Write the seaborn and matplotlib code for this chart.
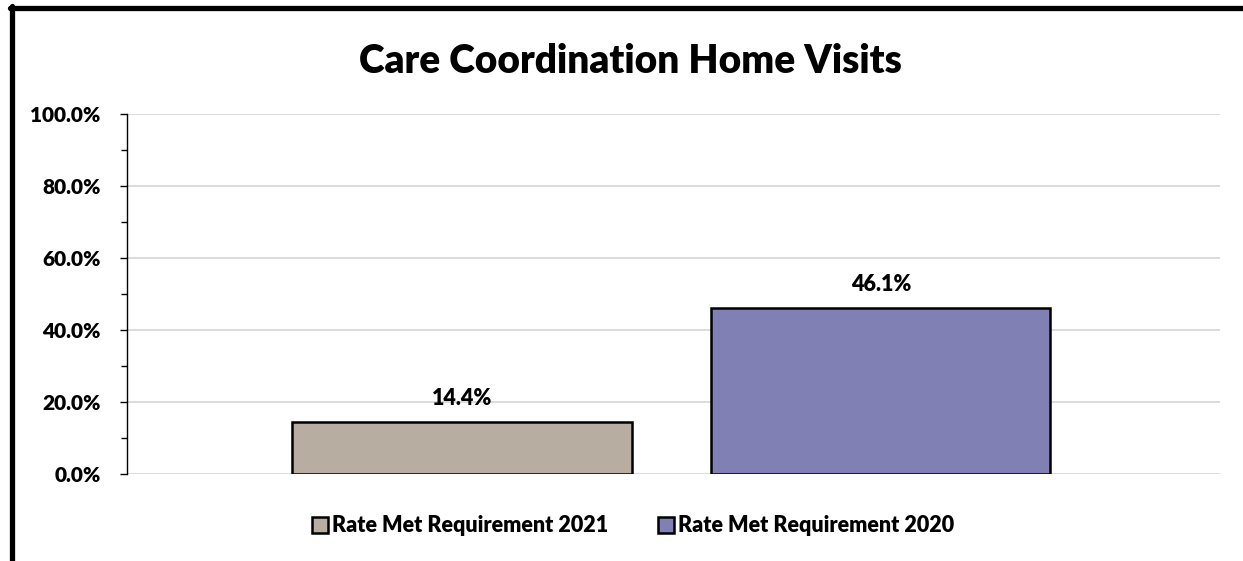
import matplotlib
matplotlib.use("Agg")
import matplotlib.pyplot as plt
from matplotlib.patches import Patch
from matplotlib.lines import Line2D
from matplotlib.ticker import MultipleLocator, PercentFormatter
import pandas as pd
import seaborn as sns

# data
series = ["Rate Met Requirement 2021", "Rate Met Requirement 2020"]
rates = [14.4, 46.1]
bar_colors = ["#B8ADA1", "#8080B4"]

df = pd.DataFrame({"Series": series, "Rate": rates})

sns.set_style("white")
plt.rcParams["font.family"] = ["Lato", "DejaVu Sans"]
plt.rcParams["font.weight"] = "heavy"
plt.rcParams["text.color"] = "black"
plt.rcParams["ytick.color"] = "black"

W, H = 1243, 561
fig = plt.figure(figsize=(W / 100, H / 100), dpi=100)
ax = fig.add_axes([127 / W, 1 - 474 / H, (1220 - 127) / W, (474 - 114) / H])

sns.barplot(data=df, x="Series", y="Rate", hue="Series", palette=bar_colors,
            dodge=False, width=0.81, edgecolor="black", linewidth=1.8,
            saturation=1, legend=False, ax=ax, zorder=3)

# value labels
for p, v in zip(ax.patches, rates):
    ax.annotate(f"{v:.1f}%", (p.get_x() + p.get_width() / 2, v),
                xytext=(0, 12), textcoords="offset points",
                ha="center", va="baseline", fontsize=15.5, fontweight="heavy")

ax.set_ylim(0, 100)
ax.set_xlim(-0.8, 1.81)
ax.yaxis.set_major_locator(MultipleLocator(20))
ax.yaxis.set_minor_locator(MultipleLocator(10))
ax.yaxis.set_major_formatter(PercentFormatter(decimals=1))
ax.grid(axis="y", color="#D9D9D9", linewidth=1.3, zorder=0)
ax.set_axisbelow(True)
ax.set_xticks([])
ax.set_xlabel("")
ax.set_ylabel("")
for s in ["top", "right", "bottom"]:
    ax.spines[s].set_visible(False)
ax.spines["left"].set_color("black")
ax.spines["left"].set_linewidth(1.0)
ax.tick_params(axis="y", which="both", left=True, direction="out", color="black", width=1.0)
ax.tick_params(axis="y", which="major", length=5, labelsize=15, pad=14)
ax.tick_params(axis="y", which="minor", length=4)
for lbl in ax.get_yticklabels():
    lbl.set_fontweight("heavy")

fig.text(630 / W, 1 - 73 / H, "Care Coordination Home Visits", ha="center", va="baseline",
         fontsize=28, fontweight="heavy")

handles = [Patch(facecolor=c, edgecolor="black", linewidth=1.8) for c in bar_colors]
fig.legend(handles, series, loc="center", bbox_to_anchor=(633 / W, 1 - 526 / H),
           ncol=2, frameon=False, handlelength=0.75, handleheight=0.75,
           handletextpad=0.2, columnspacing=2.3,
           prop={"weight": "heavy", "size": 15.5})

# thick frame lines at top and left of the image
fig.add_artist(Line2D([10 / W, 1], [1 - 8 / H, 1 - 8 / H], color="black", linewidth=3.8,
                      transform=fig.transFigure))
fig.add_artist(Line2D([12 / W, 12 / W], [0, 1 - 6 / H], color="black", linewidth=3.8,
                      transform=fig.transFigure))

fig.savefig("out.png", dpi=100)
